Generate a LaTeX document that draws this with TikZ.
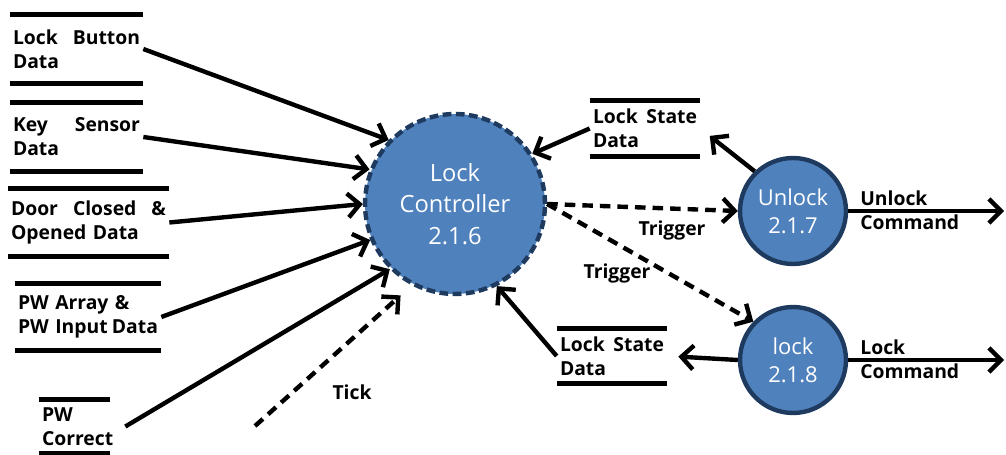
\documentclass[tikz,border=0pt]{standalone}
\usepackage{fontspec}
\setmainfont{Open Sans}
\usetikzlibrary{arrows.meta}

\definecolor{bolla}{HTML}{4F81BD}
\definecolor{bordo}{HTML}{1F3A5F}

\tikzset{
  flow/.style={line width=2.5pt, -{Straight Barb[length=2.4mm,width=4.8mm]}},
  trigger/.style={flow, dash pattern=on 6pt off 4pt},
  storeline/.style={line width=2.5pt, -},
  store/.style={text width=#1, inner xsep=0.06cm, inner ysep=0pt, align=left,
    font=\fontsize{11}{13.6}\selectfont\bfseries,
    append after command={(\tikzlastnode.north west) edge[storeline] (\tikzlastnode.north east)
                          (\tikzlastnode.south west) edge[storeline] (\tikzlastnode.south east)}},
  process/.style={circle, fill=bolla, draw=bordo, line width=2.5pt, text=white,
    align=center, inner sep=0pt},
  lbl/.style={font=\fontsize{11}{13.6}\selectfont\bfseries, align=left, inner sep=0pt}
}

\begin{document}
\begin{tikzpicture}[x=0.02cm,y=-0.02cm]
        \useasboundingbox (0,0) rectangle (1006,455);

        % Archivi di dati a sinistra
        \node[store=2.54cm, minimum height=1.36cm, xshift=0.04cm](lbd) at (74.5,49) {Lock\hfill Button\\Data};
        \node[store=2.54cm, minimum height=1.36cm, xshift=0.04cm](ksd) at (74.5,137) {Key\hfill Sensor\\Data};
        \node[store=3.1cm, minimum height=1.34cm](dcd) at (88.5,222.5) {Door\hfill Closed\hfill \&\\Opened Data};
        \node[store=2.8cm, minimum height=1.32cm](pwa) at (88,317) {PW Array \&\\PW Input\hfill Data};
        \node[store=1.3cm, minimum height=1.06cm](pwc) at (74.5,426.5) {PW\\Correct};

        % Processi
        \node[process, dash pattern=on 5pt off 2.5pt, minimum size=3.6cm,
              font=\fontsize{13.5}{18}\selectfont](lc) at (455,204) {Lock\\Controller\\2.1.6};
        \node[process, minimum size=2.12cm,
              font=\fontsize{12.5}{16}\selectfont](uc) at (793,211) {Unlock\\2.1.7};
        \node[process, minimum size=2.12cm,
              font=\fontsize{12.5}{16}\selectfont](lk) at (793,360) {lock\\2.1.8};

        % Archivi di dati a destra
        \node[store=2.08cm, minimum height=1.1cm](lsd1) at (645,128.5) {Lock\hfill State\\Data};
        \node[store=2.08cm, minimum height=1.08cm](lsd2) at (612,356) {Lock\hfill State\\Data};

        % Etichette
        \node[lbl](tk) at (352,392) {Tick};
        \node[lbl](tr1) at (672,230) {Trigger};
        \node[lbl](tr2) at (617,273) {Trigger};
        \node[lbl, anchor=west](ucl) at (860,210) {Unlock\\Command};
        \node[lbl, anchor=west](lcl) at (860,359) {Lock\\Command};

        % Estremi liberi
        \coordinate (tick) at (255,426);
        \coordinate (ucmd) at (1004,211);
        \coordinate (lcmd) at (1004,360);

        % Flussi in ingresso al Lock Controller
        \draw[flow] (lbd.east)--(lc.136);
        \draw[flow] (ksd.east)--(lc.158);
        \draw[flow] (dcd.east)--(lc.180);
        \draw[flow] (pwa.east)--(lc.203);
        \draw[flow] ([xshift=0.3cm]pwc.east)--(lc.225);
        \draw[trigger, shorten >=0.3cm] (tick)--(lc.242);

        % Flussi a destra
        \draw[flow] (lsd1.west)--(lc.33);
        \draw[flow, shorten >=0.24cm] (uc.134)--(lsd1.east);
        \draw[trigger] (lc.east)--(uc.west);
        \draw[trigger] (lc.east)--(lk.136);
        \draw[flow, shorten >=0.22cm] (lk.west)--(lsd2.east);
        \draw[flow] (lsd2.west)--(lc.297);

        % Comandi in uscita
        \draw[flow] (uc.east)--(ucmd);
        \draw[flow] (lk.east)--(lcmd);
    \end{tikzpicture}
\end{document}
